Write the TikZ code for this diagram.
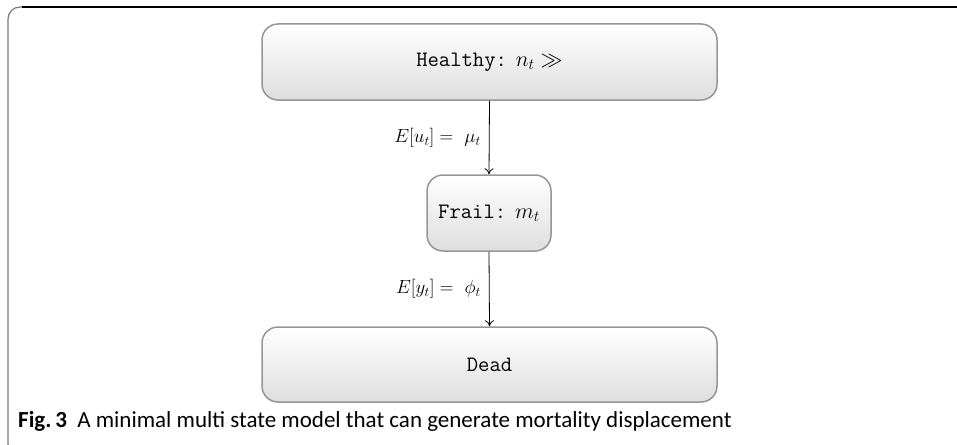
\RequirePackage{fix-cm}
\documentclass[tikz,border=0pt]{standalone}
\usepackage{fontspec}
\usetikzlibrary{arrows.meta}
\newfontfamily\capfont{Carlito}
\definecolor{boxborder}{RGB}{150,150,150}
\definecolor{framegrey}{RGB}{120,120,120}
\begin{document}
\begin{tikzpicture}[x=1pt,y=-1pt,
  state/.style={draw=boxborder, line width=1.5pt, rounded corners=16pt,
    top color=white, bottom color=black!13,
    font=\fontsize{22}{26}\selectfont, inner sep=0pt},
  trans/.style={-{To[length=6pt,width=9pt]}, line width=0.8pt},
  lbl/.style={left, inner sep=0pt, xshift=-8pt, font=\fontsize{19}{22}\selectfont}]
\useasboundingbox (0,0) rectangle (957,444);
% outer frame
\draw[framegrey, line width=1.2pt, rounded corners=12pt] (40,7) -- (8,7) -- (8,456) -- (40,456);
\draw[black, line width=1.6pt] (22,7) -- (957,7);
% states
\node[state, minimum width=455pt, minimum height=76pt] (h) at (489.5,62) {\texttt{Healthy:} $n_t \gg$};
\node[state, minimum width=124pt, minimum height=76pt] (f) at (489,213) {\texttt{Frail:} $m_t$};
\node[state, minimum width=455pt, minimum height=75pt] (d) at (489.5,364.5) {\texttt{Dead}};
% transitions
\draw[trans] (h.south) -- node[lbl] {$E[u_t]=\ \mu_t$} (f.north);
\draw[trans] (f.south) -- node[lbl] {$E[y_t]=\ \phi_t$} (d.north);
% caption
\node[anchor=base west, inner sep=0pt] (cap) at (18,427) {\capfont\fontsize{23}{27}\selectfont\textbf{Fig.\,3}\hspace{0.45em}A minimal multi state model that can generate mortality displacement};
\end{tikzpicture}
\end{document}
